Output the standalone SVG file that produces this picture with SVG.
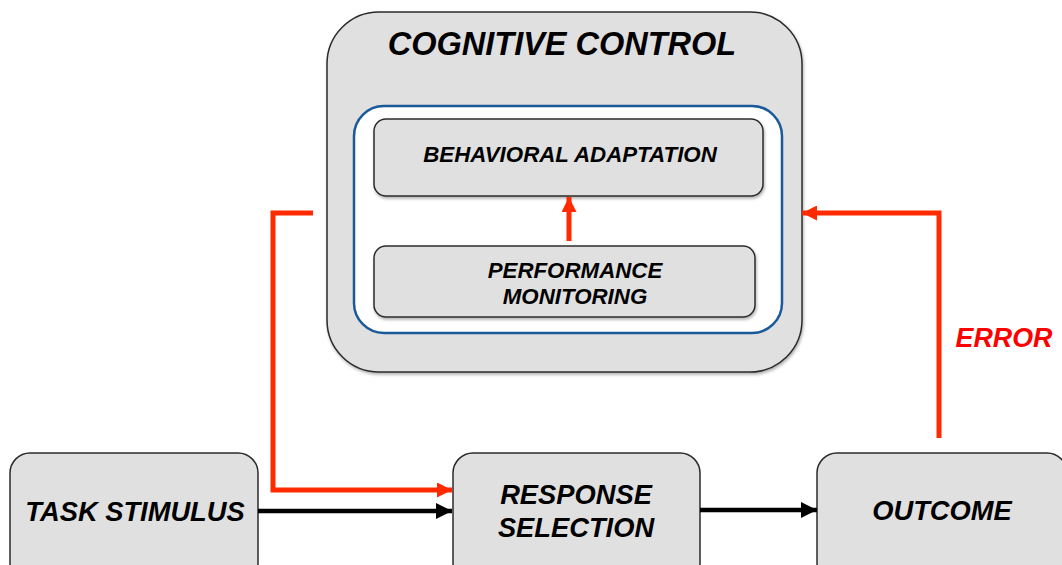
<svg xmlns="http://www.w3.org/2000/svg" width="1062" height="565" viewBox="0 0 1062 565">
  <style>
    .box { fill: #e0e0e0; stroke: #2b2b2b; stroke-width: 1.5; }
    .lbl { font-family: "Liberation Sans", Arial, sans-serif; font-weight: bold; font-style: italic; fill: #000; text-anchor: middle; }
    .red { stroke: #ff2a00; stroke-width: 5; fill: none; }
    .blk { stroke: #000; stroke-width: 4.5; fill: none; }
  </style>
  <defs>
    <filter id="shadow" x="-10%" y="-10%" width="120%" height="130%">
      <feDropShadow dx="1" dy="2" stdDeviation="1.5" flood-color="#000" flood-opacity="0.3"/>
    </filter>
    <marker id="ahRed" viewBox="0 0 10 10" refX="10" refY="5" markerUnits="userSpaceOnUse" markerWidth="16" markerHeight="15" orient="auto">
      <path d="M0,0 L10,5 L0,10 Z" fill="#ff2a00"/>
    </marker>
    <marker id="ahBlk" viewBox="0 0 10 10" refX="10" refY="5" markerUnits="userSpaceOnUse" markerWidth="16" markerHeight="16" orient="auto">
      <path d="M0,0 L10,5 L0,10 Z" fill="#000"/>
    </marker>
  </defs>
  <rect width="1062" height="565" fill="#fff"/>

  <g id="cognitive-control">
    <rect class="box" x="327" y="12" width="475" height="360" rx="52" filter="url(#shadow)"/>
    <text class="lbl" x="562" y="55" font-size="32.5">COGNITIVE CONTROL</text>
    <rect x="354" y="106" width="428" height="227" rx="30" fill="#fff" stroke="#1a5a98" stroke-width="2.5"/>
  </g>

  <g id="behavioral-adaptation">
    <rect class="box" x="374" y="119" width="389" height="77" rx="12" filter="url(#shadow)"/>
    <text class="lbl" x="570" y="162" font-size="22.3">BEHAVIORAL ADAPTATION</text>
  </g>

  <g id="performance-monitoring">
    <rect class="box" x="374" y="246" width="381" height="71" rx="12" filter="url(#shadow)"/>
    <text class="lbl" x="575" y="278" font-size="22.3">PERFORMANCE</text>
    <text class="lbl" x="575" y="304" font-size="22.3">MONITORING</text>
  </g>

  <g id="task-stimulus">
    <rect class="box" x="10" y="453" width="248" height="130" rx="20"/>
    <text class="lbl" x="135" y="521" font-size="27.3">TASK STIMULUS</text>
  </g>

  <g id="response-selection">
    <rect class="box" x="453" y="453" width="247" height="130" rx="20"/>
    <text class="lbl" x="576" y="504" font-size="27.3">RESPONSE</text>
    <text class="lbl" x="576" y="537" font-size="27.3">SELECTION</text>
  </g>

  <g id="outcome">
    <rect class="box" x="817" y="453" width="250" height="130" rx="20"/>
    <text class="lbl" x="942" y="520" font-size="27.3">OUTCOME</text>
  </g>

  <g id="connectors">
    <line class="red" x1="569" y1="241" x2="569" y2="197" marker-end="url(#ahRed)"/>
    <polyline class="red" points="313,213 273,213 273,490 452,490" marker-end="url(#ahRed)"/>
    <polyline class="red" points="939,438 939,213 802,213" marker-end="url(#ahRed)"/>
    <line class="blk" x1="258" y1="511" x2="452" y2="511" marker-end="url(#ahBlk)"/>
    <line class="blk" x1="700" y1="510" x2="817" y2="510" marker-end="url(#ahBlk)"/>
    <text class="lbl" x="1004" y="347" font-size="26.8" style="fill:#ff0000">ERROR</text>
  </g>
</svg>
